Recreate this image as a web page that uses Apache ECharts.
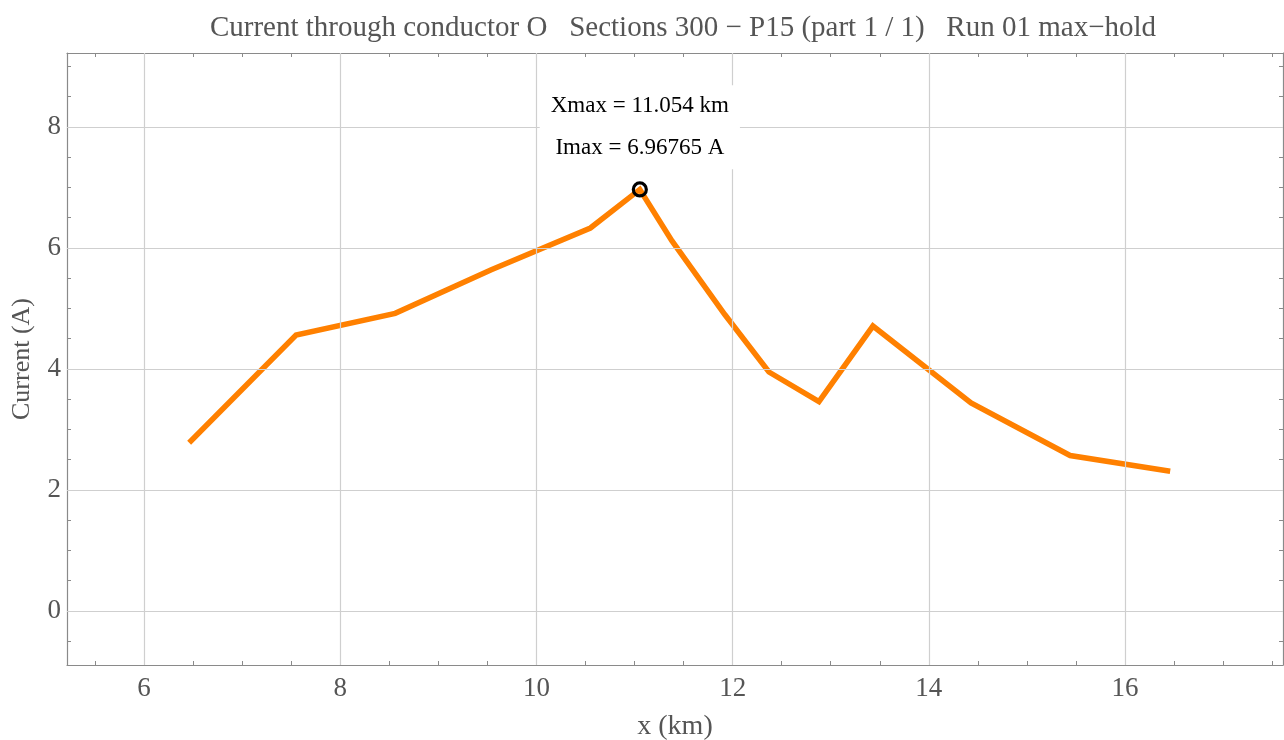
<!DOCTYPE html>
<html>
<head>
<meta charset="utf-8">
<script src="https://cdn.jsdelivr.net/npm/echarts@6/dist/echarts.min.js"></script>
<style>
  html, body { margin: 0; padding: 0; background: #ffffff; }
  #chart { width: 1284px; height: 740px; }
</style>
</head>
<body>
<div id="chart"></div>
<script>
// Position along the route (km) and maximum-hold current (A)
const xKm = [6.46, 7.55, 8.56, 9.54, 10.55, 11.054, 11.38, 11.92, 12.37, 12.88, 13.43, 14.43, 15.44, 16.46];
const currentA = [2.78, 4.56, 4.92, 5.64, 6.33, 6.96765, 6.12, 4.90, 3.95, 3.46, 4.71, 3.44, 2.57, 2.31];

// Location of the maximum
const peakX = 11.054;
const peakI = 6.96765;

// Tick marks and labels
const xMajor = [6, 8, 10, 12, 14, 16];
const xMinor = [5.5, 6, 6.5, 7, 7.5, 8, 8.5, 9, 9.5, 10, 10.5, 11, 11.5, 12, 12.5, 13, 13.5, 14, 14.5, 15, 15.5, 16, 16.5, 17, 17.5];
const yMajor = [0, 2, 4, 6, 8];
const yMinor = [-0.5, 0, 0.5, 1, 1.5, 2, 2.5, 3, 3.5, 4, 4.5, 5, 5.5, 6, 6.5, 7, 7.5, 8, 8.5, 9];

const xRange = [5.215, 17.61];
const yRange = [-0.893, 9.223];

const FONT = '"Liberation Serif", "DejaVu Serif", serif';
const FRAME = '#8a8a8a';
const GRID = '#cfcfcf';
const TEXT = '#555555';

const chart = echarts.init(document.getElementById('chart'), null, { renderer: 'canvas' });

function frameX(pos, showLabels) {
  return {
    type: 'value', position: pos, min: xRange[0], max: xRange[1],
    name: showLabels ? 'x (km)' : '', nameLocation: 'middle', nameGap: 48,
    nameTextStyle: { fontFamily: FONT, fontSize: 28, color: TEXT },
    axisLine: { show: true, onZero: false, lineStyle: { color: FRAME, width: 1.2 } },
    axisTick: { show: true, inside: true, length: 4, customValues: xMinor, lineStyle: { color: FRAME } },
    axisLabel: { show: showLabels, customValues: xMajor, margin: 10, fontFamily: FONT, fontSize: 27, color: TEXT },
    splitLine: { show: false }
  };
}
function frameY(pos, showLabels) {
  return {
    type: 'value', position: pos, min: yRange[0], max: yRange[1],
    name: showLabels ? 'Current (A)' : '', nameLocation: 'middle', nameGap: 32, nameRotate: 90,
    nameTextStyle: { fontFamily: FONT, fontSize: 26, color: TEXT },
    axisLine: { show: true, onZero: false, lineStyle: { color: FRAME, width: 1.2 } },
    axisTick: { show: true, inside: true, length: 4, customValues: yMinor, lineStyle: { color: FRAME } },
    axisLabel: { show: showLabels, customValues: yMajor, margin: 6, fontFamily: FONT, fontSize: 27, color: TEXT },
    splitLine: { show: false }
  };
}

const option = {
  animation: false,
  backgroundColor: '#ffffff',
  title: {
    text: 'Current through conductor O   Sections 300 \u2212 P15 (part 1 / 1)   Run 01 max\u2212hold',
    left: 678, top: 9, textAlign: 'center',
    textStyle: { fontFamily: FONT, fontSize: 29, fontWeight: 'normal', color: TEXT }
  },
  grid: { left: 67, right: 1, top: 53, bottom: 75, containLabel: false, outerBoundsMode: 'none' },
  xAxis: [frameX('bottom', true), frameX('top', false)],
  yAxis: [frameY('left', true), frameY('right', false)],
  series: [
    {
      // grid lines at the labelled ticks
      type: 'line', data: [], z: 1, silent: true,
      markLine: {
        silent: true, symbol: ['none', 'none'], label: { show: false },
        lineStyle: { color: GRID, type: 'solid', width: 1.2 },
        emphasis: { disabled: true },
        data: xMajor.map(v => ({ xAxis: v })).concat(yMajor.map(v => ({ yAxis: v })))
      }
    },
    {
      type: 'line', z: 3,
      data: xKm.map((x, i) => [x, currentA[i]]),
      showSymbol: false, symbol: 'none',
      lineStyle: { color: '#ff8000', width: 5.5, join: 'miter' },
      markPoint: {
        silent: true,
        symbol: 'circle', symbolSize: 13,
        itemStyle: { color: 'rgba(0,0,0,0)', borderColor: '#000000', borderWidth: 3.2 },
        label: {
          show: true, position: 'top', distance: 12,
          formatter: p => 'Xmax = ' + p.data.coord[0].toFixed(3) + ' km\nImax = ' + p.data.coord[1] + ' A',
          fontFamily: FONT, fontSize: 23, color: '#000000', lineHeight: 42,
          backgroundColor: '#ffffff', padding: [0, 11]
        },
        data: [{ coord: [peakX, peakI] }]
      }
    }
  ]
};

chart.setOption(option);
</script>
</body>
</html>
